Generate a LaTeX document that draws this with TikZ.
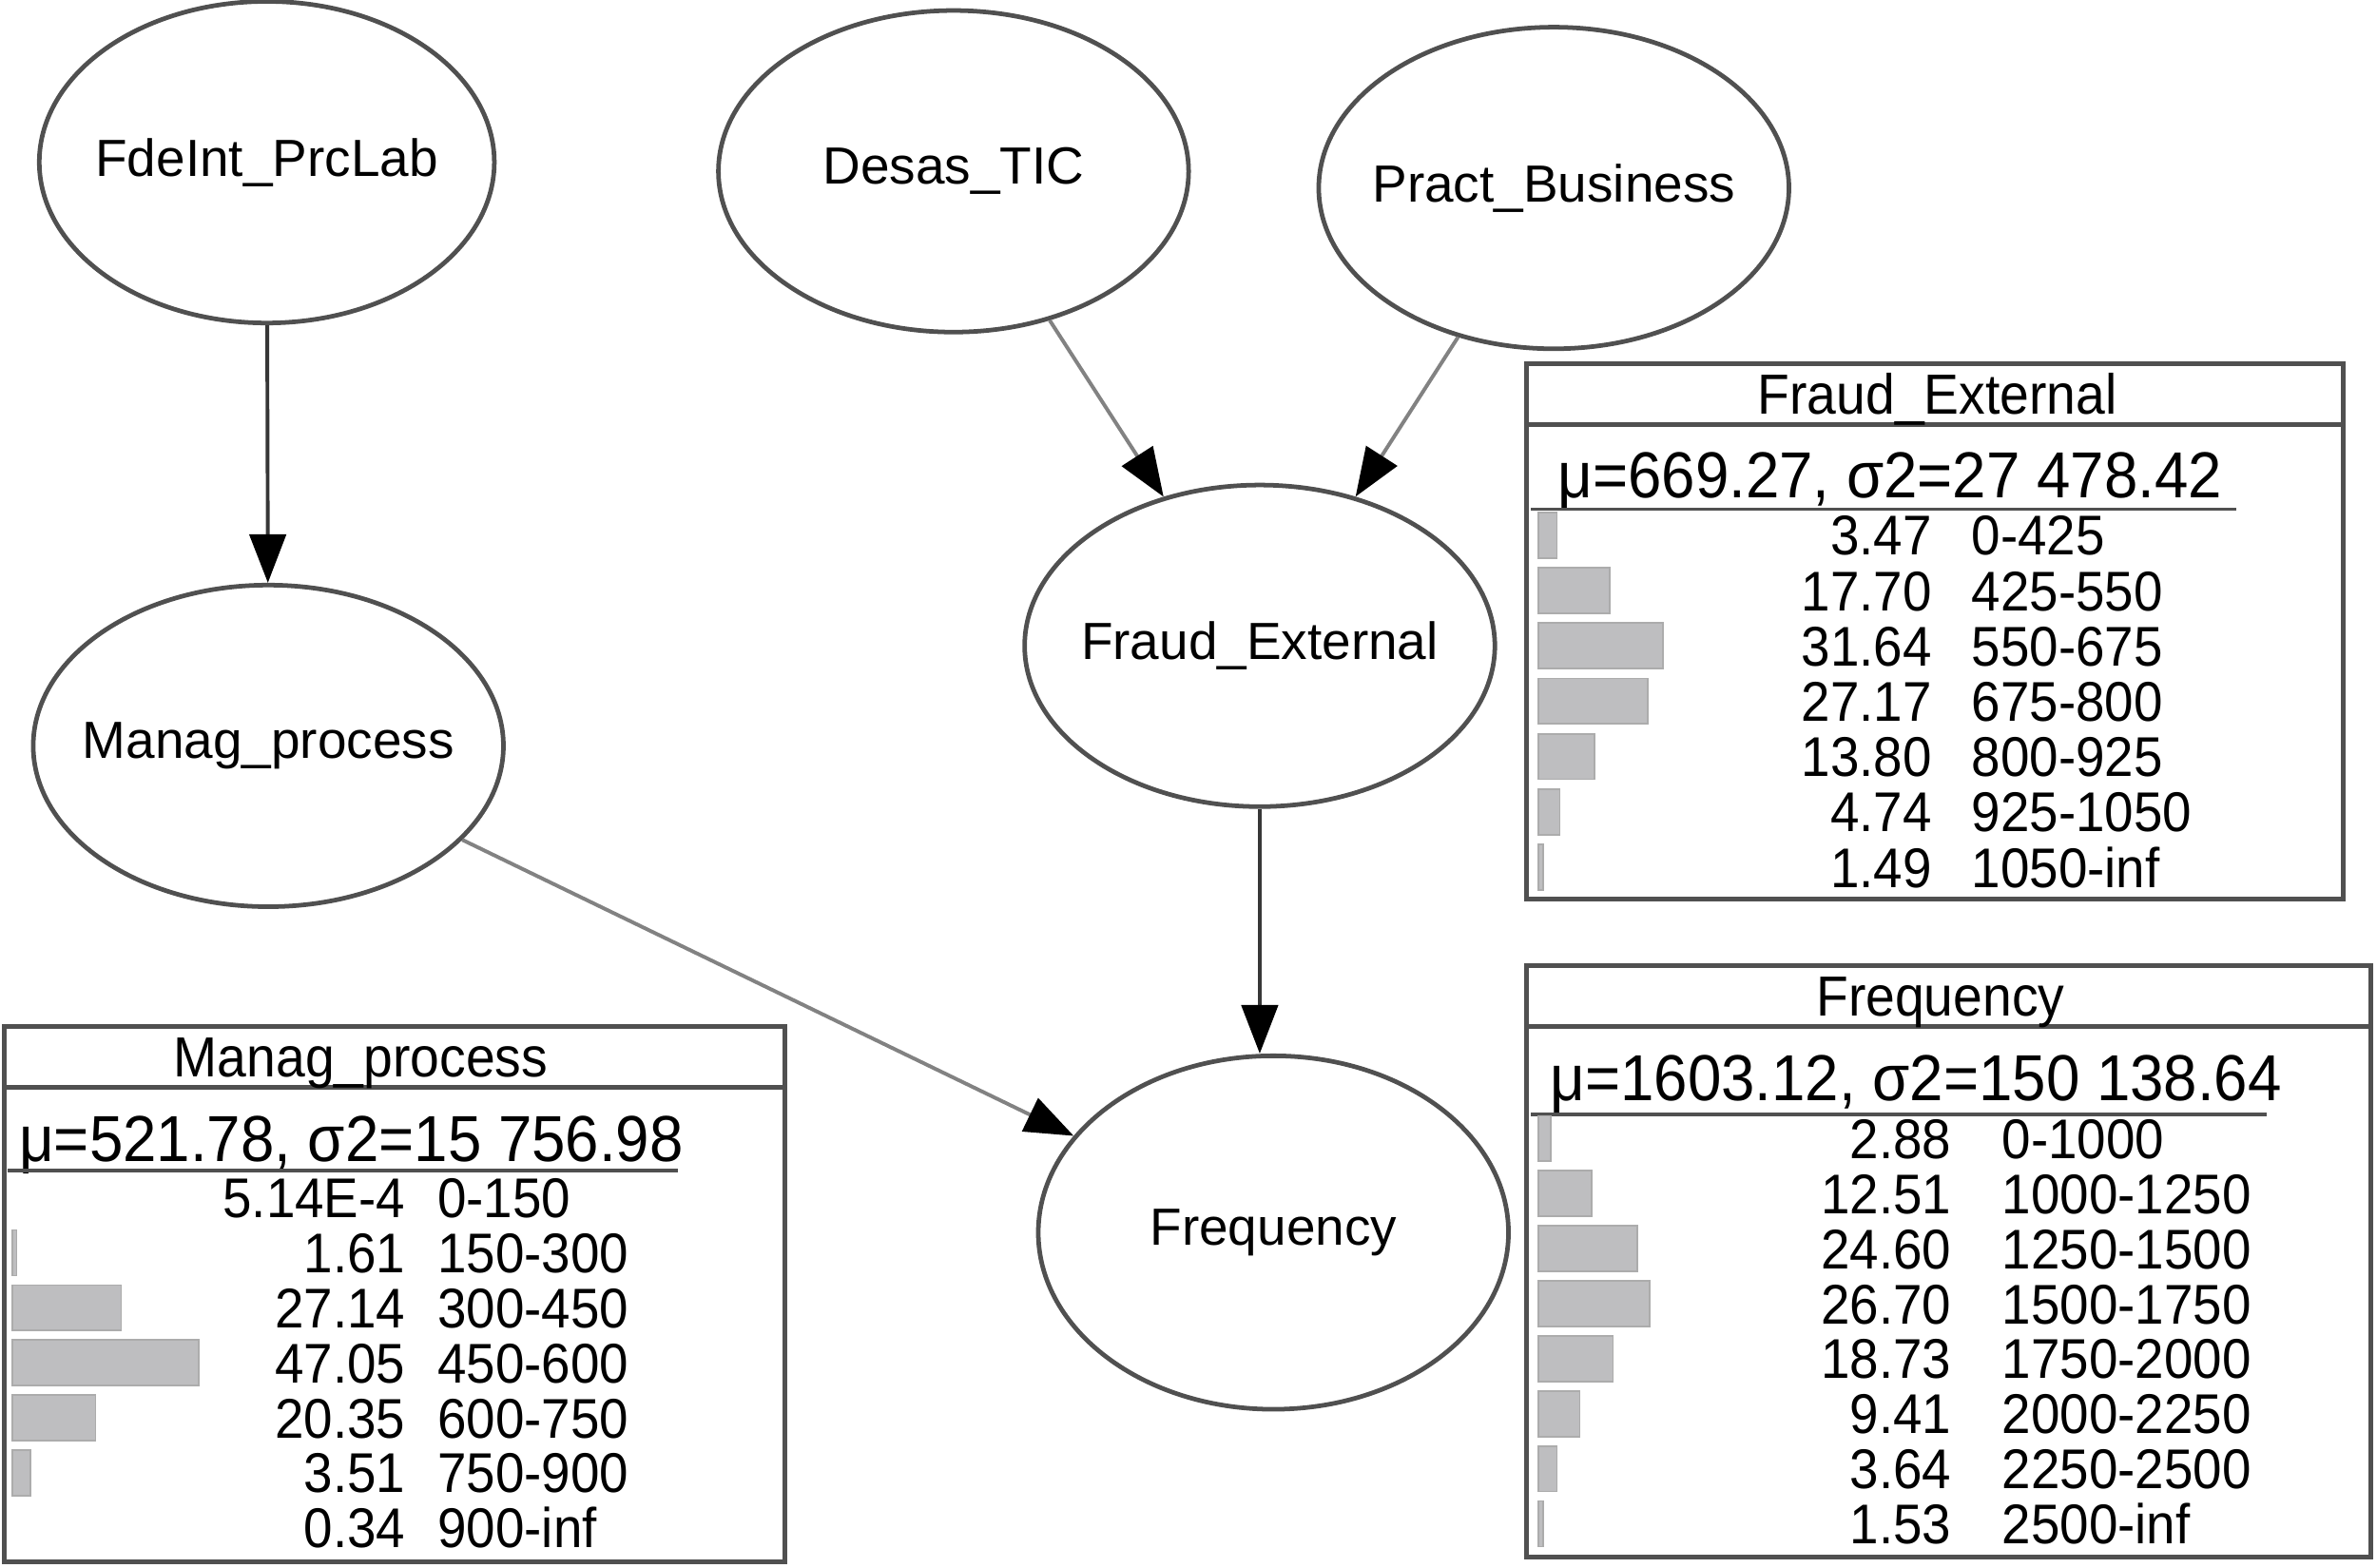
\documentclass[tikz,border=0pt]{standalone}
\usepackage{fontspec}
\setmainfont{Liberation Sans}
\newfontfamily\tabfont[FakeStretch=0.93]{Liberation Sans}
\usepackage{tikz}
\usetikzlibrary{shapes.geometric,arrows.meta}

\definecolor{edgegray}{RGB}{80,80,80}
\definecolor{darkline}{RGB}{55,55,55}
\definecolor{lightline}{RGB}{130,130,130}
\definecolor{bargray}{RGB}{190,190,192}

\begin{document}
\begin{tikzpicture}[x=0.01cm,y=-0.01cm,
    bnode/.style={ellipse,draw=edgegray,line width=0.85pt,minimum width=3.1cm,minimum height=2.12cm,inner sep=0pt,
        label={[font=\fontsize{9.8}{12}\selectfont]center:#1}},
    tip/.style={-{Triangle[length=0.32cm,width=0.24cm,color=black]}},
    darkarr/.style={tip,draw=darkline,line width=0.7pt},
    lightarr/.style={tip,draw=lightline,line width=0.7pt},
    tabline/.style={draw=edgegray,line width=0.9pt},
    meanrule/.style={draw=edgegray,line width=0.6pt},
    tabtitle/.style={inner sep=0pt,text height=7.6pt,text depth=0pt,font=\tabfont\fontsize{10.6}{12}\selectfont},
    tabmean/.style={inner sep=0pt,anchor=west,text height=8.7pt,text depth=0pt,font=\tabfont\fontsize{12.2}{14}\selectfont},
    tabnum/.style={inner sep=0pt,text height=7.5pt,text depth=0pt,font=\tabfont\fontsize{10.5}{12}\selectfont},
    bar/.style={fill=bargray,draw=gray!65,line width=0.3pt}]
    \useasboundingbox (0,0) rectangle (1568,1034);

    % draw nodes
    \node[bnode=FdeInt\_PrcLab, minimum width=3.0cm] (fdeint) at (176,107) {};
    \node[bnode=Desas\_TIC] (desas) at (629,113) {};
    \node[bnode=Pract\_Business] (pract) at (1025,124) {};
    \node[bnode=Fraud\_External] (fraud) at (831,426) {};
    \node[bnode=Manag\_process] (manag) at (177,492) {};
    \node[bnode=Frequency, minimum height=2.33cm] (freq) at (840,813) {};

    % draw arrows
    \draw[darkarr] (fdeint) -- (manag);
    \draw[lightarr] (desas) -- (fraud);
    \draw[lightarr] (pract) -- (fraud);
    \draw[lightarr] (manag) -- (freq);
    \draw[darkarr] (fraud.south) -- (fraud.south |- freq.north);

    % draw table Fraud_External
    \draw[tabline] (1007,240) rectangle (1546,593);
    \draw[tabline] (1007,280) -- (1546,280);
    \node[tabtitle] (fexttitle) at (1278,260) {Fraud\_External};
    \node[tabmean] (fextmean) at (1027,313) {μ=669.27, σ2=27 478.42};
    \draw[meanrule] (1010,336) -- (1475,336);
    \foreach \v/\r/\w [count=\i, evaluate=\i as \y using 353+36.5*(\i-1)] in
        {3.47/0-425/12, 17.70/425-550/47, 31.64/550-675/82, 27.17/675-800/72,
         13.80/800-925/37, 4.74/925-1050/14, 1.49/1050-inf/3} {
        \filldraw[bar] (1015,\y-15) rectangle ++(\w,30);
        \node[tabnum,anchor=east] (fextv\i) at (1275,\y) {\v};
        \node[tabnum,anchor=west] (fextr\i) at (1300,\y) {\r};
    }

    % draw table Frequency
    \draw[tabline] (1007,637) rectangle (1564,1027);
    \draw[tabline] (1007,677) -- (1564,677);
    \node[tabtitle] (freqtitle) at (1280,657) {Frequency};
    \node[tabmean] (freqmean) at (1022,711) {μ=1603.12, σ2=150 138.64};
    \draw[meanrule] (1010,735) -- (1495,735);
    \foreach \v/\r/\w [count=\i, evaluate=\i as \y using 751+36.3*(\i-1)] in
        {2.88/0-1000/8, 12.51/1000-1250/35, 24.60/1250-1500/65, 26.70/1500-1750/73,
         18.73/1750-2000/49, 9.41/2000-2250/27, 3.64/2250-2500/12, 1.53/2500-inf/3} {
        \filldraw[bar] (1015,\y-15) rectangle ++(\w,30);
        \node[tabnum,anchor=east] (freqv\i) at (1288,\y) {\v};
        \node[tabnum,anchor=west] (freqr\i) at (1320,\y) {\r};
    }

    % draw table Manag_process
    \draw[tabline] (3,677) rectangle (518,1030);
    \draw[tabline] (3,717) -- (518,717);
    \node[tabtitle] (mantitle) at (238,697) {Manag\_process};
    \node[tabmean] (manmean) at (12,751) {μ=521.78, σ2=15 756.98};
    \draw[meanrule] (5,772) -- (447,772);
    \foreach \v/\r/\w [count=\i, evaluate=\i as \y using 790+36.3*(\i-1)] in
        {5.14E-4/0-150/0, 1.61/150-300/3, 27.14/300-450/72, 47.05/450-600/123,
         20.35/600-750/55, 3.51/750-900/12, 0.34/900-inf/0} {
        \ifdim\w pt>0pt \filldraw[bar] (8,\y-15) rectangle ++(\w,30); \fi
        \node[tabnum,anchor=east] (manv\i) at (268,\y) {\v};
        \node[tabnum,anchor=west] (manr\i) at (288,\y) {\r};
    }
\end{tikzpicture}
\end{document}
